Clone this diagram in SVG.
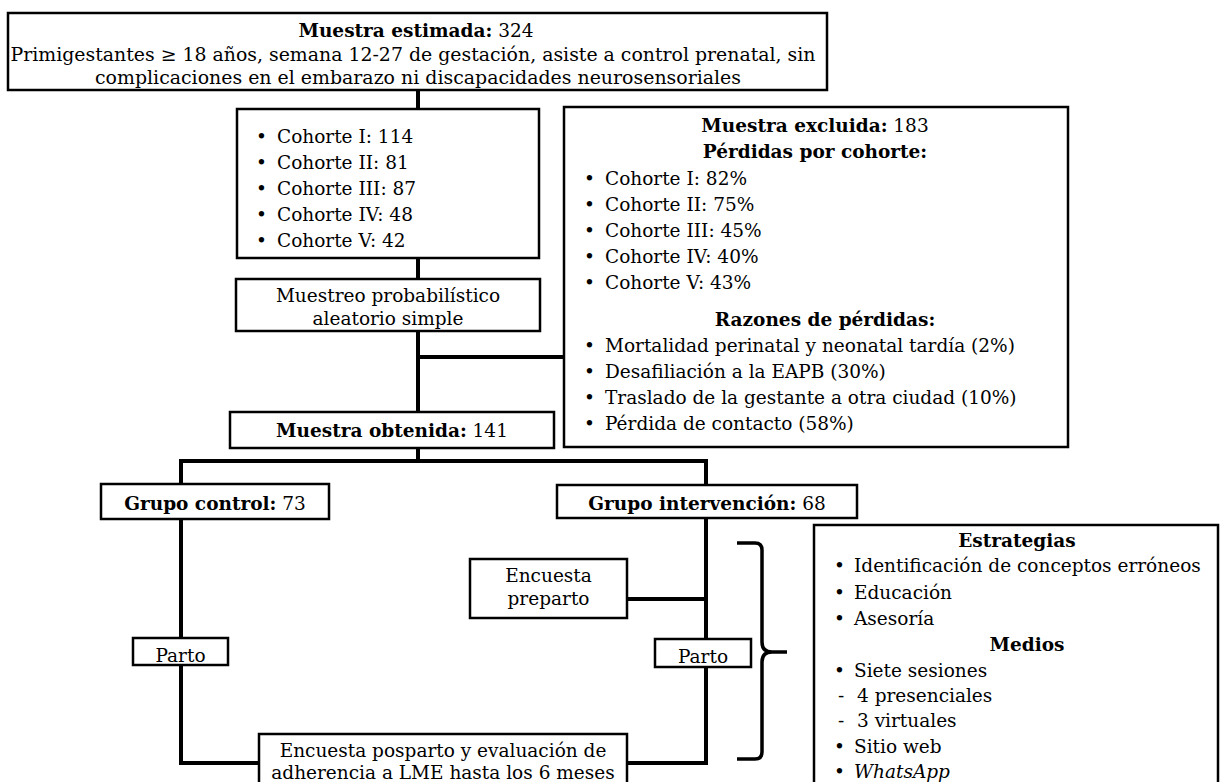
<svg xmlns="http://www.w3.org/2000/svg" width="1220" height="782" viewBox="0 0 1220 782">
<style>
  .box { fill: #ffffff; stroke: #000000; stroke-width: 2.5; }
  .con { fill: none; stroke: #000000; stroke-width: 4; }
  .brace { fill: none; stroke: #000000; stroke-width: 3.5; stroke-linejoin: round; }
  text { font-family: "DejaVu Serif", "Liberation Serif", serif; font-size: 18.5px; fill: #000000; }
  .c { text-anchor: middle; }
  .b { font-weight: bold; }
  .i { font-style: italic; }
</style>
<rect width="1220" height="782" fill="#ffffff"/>

<g id="connectors">
  <path class="con" d="M418 90 V109"/>
  <path class="con" d="M418 258 V279"/>
  <path class="con" d="M418 331 V412"/>
  <path class="con" d="M418 357 H564"/>
  <path class="con" d="M418 448 V461"/>
  <path class="con" d="M181 461 H706"/>
  <path class="con" d="M181 459 V484"/>
  <path class="con" d="M706 459 V485"/>
  <path class="con" d="M181 519 V638"/>
  <path class="con" d="M181 665 V763 H259"/>
  <path class="con" d="M706 518 V639"/>
  <path class="con" d="M706 667 V763 H627"/>
  <path class="con" d="M627 599 H706"/>
  <path class="brace" d="M737 543 H755 Q762 543 762 550 V642 Q762 652 772 652 H787 M772 652 Q762 652 762 662 V752 Q762 759 755 759 H737"/>
</g>

<g id="muestra-estimada">
  <rect class="box" x="8" y="13" width="819" height="77"/>
  <text class="c" x="416" y="37"><tspan class="b">Muestra estimada:</tspan> 324</text>
  <text class="c" x="413" y="61" textLength="805" lengthAdjust="spacingAndGlyphs">Primigestantes ≥ 18 años, semana 12-27 de gestación, asiste a control prenatal, sin</text>
  <text class="c" x="418" y="84" textLength="646" lengthAdjust="spacingAndGlyphs">complicaciones en el embarazo ni discapacidades neurosensoriales</text>
</g>

<g id="cohortes">
  <rect class="box" x="237" y="109" width="302" height="149"/>
  <text x="256" y="143">•</text><text x="277" y="143">Cohorte I: 114</text>
  <text x="256" y="169">•</text><text x="277" y="169">Cohorte II: 81</text>
  <text x="256" y="195">•</text><text x="277" y="195">Cohorte III: 87</text>
  <text x="256" y="221">•</text><text x="277" y="221">Cohorte IV: 48</text>
  <text x="256" y="247">•</text><text x="277" y="247">Cohorte V: 42</text>
</g>

<g id="muestreo">
  <rect class="box" x="236" y="279" width="304" height="52"/>
  <text class="c" x="388" y="302">Muestreo probabilístico</text>
  <text class="c" x="388" y="325">aleatorio simple</text>
</g>

<g id="muestra-excluida">
  <rect class="box" x="564" y="107" width="504" height="340"/>
  <text class="c" x="815" y="132"><tspan class="b">Muestra excluida:</tspan> 183</text>
  <text class="c b" x="815" y="158">Pérdidas por cohorte:</text>
  <text x="584" y="185">•</text><text x="605" y="185">Cohorte I: 82%</text>
  <text x="584" y="211">•</text><text x="605" y="211">Cohorte II: 75%</text>
  <text x="584" y="237">•</text><text x="605" y="237">Cohorte III: 45%</text>
  <text x="584" y="263">•</text><text x="605" y="263">Cohorte IV: 40%</text>
  <text x="584" y="289">•</text><text x="605" y="289">Cohorte V: 43%</text>
  <text class="c b" x="825" y="326">Razones de pérdidas:</text>
  <text x="584" y="352">•</text><text x="605" y="352">Mortalidad perinatal y neonatal tardía (2%)</text>
  <text x="584" y="378">•</text><text x="605" y="378">Desafiliación a la EAPB (30%)</text>
  <text x="584" y="404">•</text><text x="605" y="404">Traslado de la gestante a otra ciudad (10%)</text>
  <text x="584" y="430">•</text><text x="605" y="430">Pérdida de contacto (58%)</text>
</g>

<g id="muestra-obtenida">
  <rect class="box" x="230" y="412" width="324" height="36"/>
  <text class="c" x="392" y="437"><tspan class="b">Muestra obtenida:</tspan> 141</text>
</g>

<g id="grupo-control">
  <rect class="box" x="101" y="484" width="228" height="35"/>
  <text class="c" x="215" y="510"><tspan class="b">Grupo control:</tspan> 73</text>
</g>

<g id="grupo-intervencion">
  <rect class="box" x="557" y="485" width="300" height="33"/>
  <text class="c" x="707" y="510"><tspan class="b">Grupo intervención:</tspan> 68</text>
</g>

<g id="encuesta-preparto">
  <rect class="box" x="470" y="559" width="157" height="59"/>
  <text class="c" x="548.5" y="582">Encuesta</text>
  <text class="c" x="548.5" y="605">preparto</text>
</g>

<g id="parto-control">
  <rect class="box" x="133" y="638" width="95" height="27"/>
  <text class="c" x="180.5" y="662">Parto</text>
</g>

<g id="parto-intervencion">
  <rect class="box" x="655" y="639" width="96" height="28"/>
  <text class="c" x="703" y="663">Parto</text>
</g>

<g id="encuesta-posparto">
  <rect class="box" x="259" y="734" width="368" height="60"/>
  <text class="c" x="443" y="757">Encuesta posparto y evaluación de</text>
  <text class="c" x="443" y="779">adherencia a LME hasta los 6 meses</text>
</g>

<g id="estrategias">
  <rect class="box" x="814" y="525" width="404" height="275"/>
  <text class="c b" x="1017" y="547">Estrategias</text>
  <text x="834" y="572">•</text><text x="854" y="572">Identificación de conceptos erróneos</text>
  <text x="834" y="599">•</text><text x="854" y="599">Educación</text>
  <text x="834" y="625">•</text><text x="854" y="625">Asesoría</text>
  <text class="c b" x="1027" y="651">Medios</text>
  <text x="834" y="677">•</text><text x="854" y="677">Siete sesiones</text>
  <text x="838" y="702">-</text><text x="857" y="702">4 presenciales</text>
  <text x="838" y="727">-</text><text x="857" y="727">3 virtuales</text>
  <text x="834" y="753">•</text><text x="854" y="753">Sitio web</text>
  <text x="834" y="778">•</text><text x="854" y="778" class="i">WhatsApp</text>
</g>
</svg>
